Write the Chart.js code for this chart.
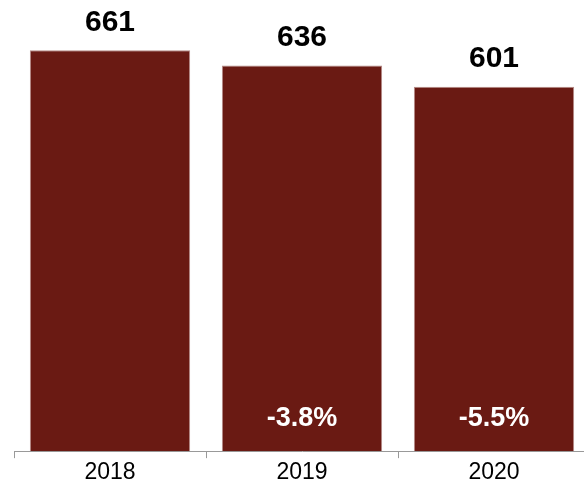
<!DOCTYPE html>
<html>
<head>
<meta charset="utf-8">
<script src="https://cdn.jsdelivr.net/npm/chart.js@4"></script>
<style>
    html, body { margin: 0; padding: 0; background: #fff; overflow: hidden; }
    #wrap { width: 590px; height: 488px; position: relative; }
</style>
</head>
<body>
<div id="wrap"><canvas id="chart"></canvas></div>
<script>
const years = ["2018", "2019", "2020"];
const totals = [661, 636, 601];
const changeLabels = ["", "-3.8%", "-5.5%"];

const FONT = "'Liberation Sans', Arial, Helvetica, sans-serif";

let barLabelsPlugin = {
    id: "barLabels",
    afterDatasetsDraw: (chart) => {
        const {ctx, scales: {y}} = chart;
        const meta = chart.getDatasetMeta(0);
        ctx.save();
        ctx.textAlign = "center";
        ctx.textBaseline = "middle";
        meta.data.forEach((bar, i) => {
            ctx.fillStyle = "#000";
            ctx.font = "bold 30px " + FONT;
            ctx.fillText(String(totals[i]), bar.x, bar.y - 28);
            if (changeLabels[i]) {
                ctx.fillStyle = "#fff";
                ctx.font = "bold 27px " + FONT;
                ctx.fillText(changeLabels[i], bar.x, y.getPixelForValue(0) - 33);
            }
        });
        ctx.restore();
    }
}

let options = {
    responsive: true,
    maintainAspectRatio: false,
    devicePixelRatio: 1,
    animation: false,
    layout: {
        padding: {left: 14, right: 0, top: 0, bottom: 0}
    },
    plugins: {
        legend: {display: false},
        tooltip: {enabled: false}
    },
    scales: {
        x: {
            grid: {
                display: true,
                drawOnChartArea: false,
                drawTicks: true,
                tickLength: 7,
                color: "#999"
            },
            border: {display: true, color: "#999", width: 1},
            ticks: {
                color: "#000",
                padding: 4,
                font: {family: FONT, size: 23, lineHeight: 0.95}
            }
        },
        y: {
            display: false,
            min: 0,
            max: 744
        }
    }
}

new Chart(document.getElementById("chart"), {
    type: "bar",
    data: {
        labels: years,
        datasets: [{
            data: totals,
            backgroundColor: "#6a1a13",
            borderColor: "#b58a86",
            borderWidth: 1,
            barPercentage: 0.835,
            categoryPercentage: 1
        }]
    },
    options: options,
    plugins: [barLabelsPlugin]
});
</script>
</body>
</html>
